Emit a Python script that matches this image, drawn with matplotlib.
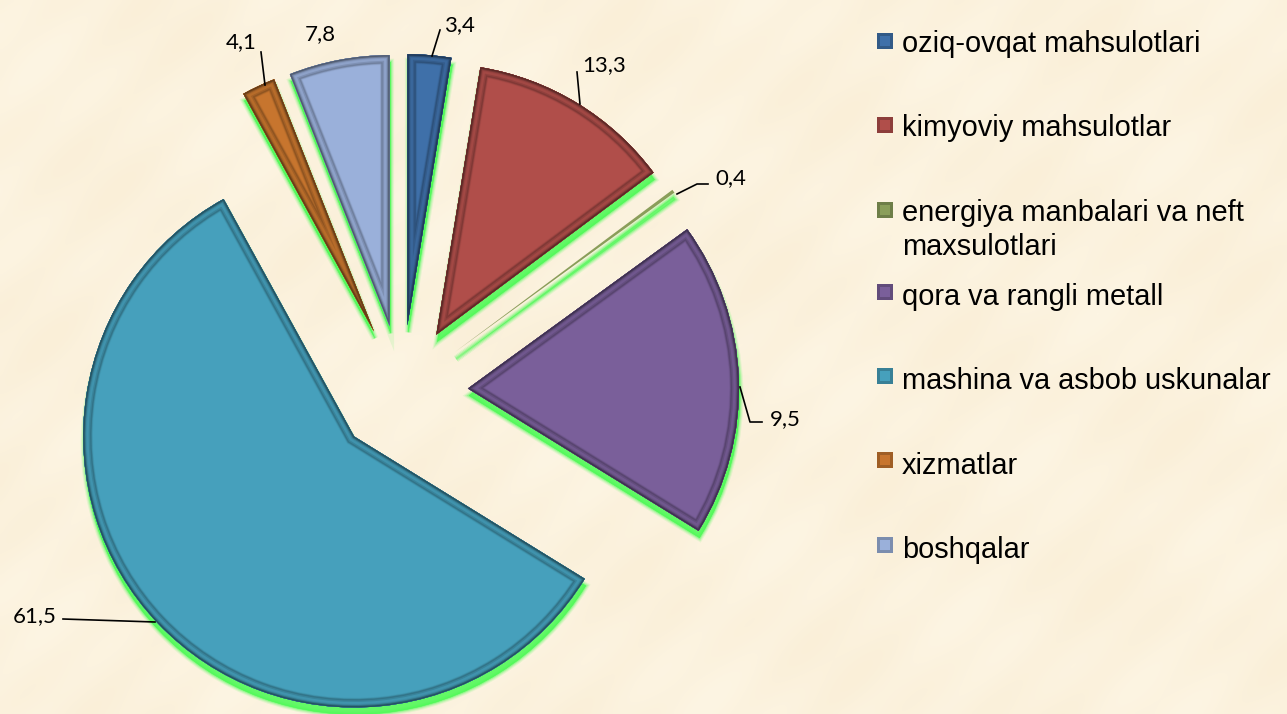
import numpy as np
import matplotlib
matplotlib.use('Agg')
import matplotlib.pyplot as plt
from matplotlib.colors import to_rgb, LinearSegmentedColormap
from matplotlib.patches import Rectangle

categories = ['oziq-ovqat mahsulotlari', 'kimyoviy mahsulotlar',
              'energiya manbalari va neft\nmaxsulotlari', 'qora va rangli metall',
              'mashina va asbob uskunalar', 'xizmatlar', 'boshqalar']
value_labels = ['3,4', '13,3', '0,4', '9,5', '61,5', '4,1', '7,8']
# the slices in the picture do not follow their labels, so these are the drawn shares
drawn_shares = [2.6, 12.2, 0.2, 18.8, 58.2, 2.0, 6.0]
colors = ['#3F70A9', '#B04E4A', '#8A9E5A', '#7A5F9A', '#46A0BC', '#C7752E', '#9AB0DA']

CENTER = (402, 391)
RADIUS = 271
EXPLODE = 66


def shade(c, f):
    c = np.array(to_rgb(c))
    if f < 1:
        return tuple(c * f)
    return tuple(c + (1 - c) * (f - 1))


def pie_layer(zorder, **props):
    wedges, _ = ax.pie(drawn_shares, explode=[EXPLODE] * len(drawn_shares), center=CENTER,
                       radius=RADIUS, startangle=-90, counterclock=True,
                       wedgeprops=props)
    for w in wedges:
        w.set_zorder(zorder)
    return wedges


fig = plt.figure(figsize=(12.87, 7.14), dpi=100)
ax = fig.add_axes([0, 0, 1, 1])

# parchment background
yy, xx = np.mgrid[0:714:3, 0:1287:3]
paper = (np.sin(xx / 37 + yy / 91) + np.sin(yy / 29 - xx / 71) + np.sin((xx + yy) / 13)) / 3
ax.imshow(paper, extent=(0, 1287, 714, 0),
          cmap=LinearSegmentedColormap.from_list('paper', ['#FAEFD8', '#FDF5E3']),
          interpolation='bicubic', zorder=0)

# soft green shadow below the slices
for lw, alpha in [(5, 0.12), (3.5, 0.2), (2, 0.35), (0.5, 0.7)]:
    shadow = pie_layer(1, facecolor='#4CFA55', edgecolor='#4CFA55', linewidth=lw, alpha=alpha)
    for w in shadow:
        w.set_center((w.center[0] + 1, w.center[1] + 7))
shadow[2].set_alpha(0.25)

# faces
base = pie_layer(2, linewidth=0)
for w, c in zip(base, colors):
    w.set_facecolor(c)

# bevel, strokes clipped to their own slice so only the inner half shows
bevel = [(14, 0.96), (13, 0.86), (12, 0.74), (11, 0.72), (10, 0.82), (8, 0.92),
         (5, 0.86), (3.5, 0.7), (2, 0.52)]
for i, (lw, f) in enumerate(bevel):
    band = pie_layer(3 + i, fill=False, linewidth=lw, joinstyle='miter')
    for j, (w, b, c) in enumerate(zip(band, base, colors)):
        w.set_edgecolor(shade(c, f))
        w.set_clip_on(True)
        w.set_clip_path(b)
        if j == 2:  # hairline slice has no bevel
            w.set_visible(False)

# data labels and leader lines
label_pos = [(459, 25), (604, 65), (731, 178), (785, 419), (35, 616), (241, 42), (320, 34)]
leaders = [[(440, 30), (432, 56)], [(577, 72), (580, 104)],
           [(708, 184), (697, 184), (677, 194)], [(740, 387), (750, 422), (762, 422)],
           [(63, 619), (155, 622)], [(261, 52), (265, 85)], []]
for txt, pos, line in zip(value_labels, label_pos, leaders):
    ax.text(pos[0], pos[1], txt, fontsize=16, family='Lato', color='black',
            ha='center', va='center', zorder=20)
    if line:
        ax.plot([p[0] for p in line], [p[1] for p in line], color='black', lw=1.2, zorder=20)

# legend
legend_y = [41, 125, 210, 292, 376, 460, 545]
text_y = [42, 126, 211, 295, 379, 464, 548]
for name, c, sy, ty in zip(categories, colors, legend_y, text_y):
    ax.add_patch(Rectangle((877, sy - 8), 16, 16, facecolor=shade(c, 0.8), lw=0, zorder=20))
    ax.add_patch(Rectangle((880, sy - 5), 10, 10, facecolor=c, lw=0, zorder=21))
    ax.text(902, ty - 12, name, fontsize=20.9, family='Liberation Sans', color='black',
            ha='left', va='top', linespacing=1.28, zorder=20)

ax.set_xlim(0, 1287)
ax.set_ylim(714, 0)
ax.set_aspect('equal')
ax.axis('off')

fig.savefig('out.png', dpi=100)
